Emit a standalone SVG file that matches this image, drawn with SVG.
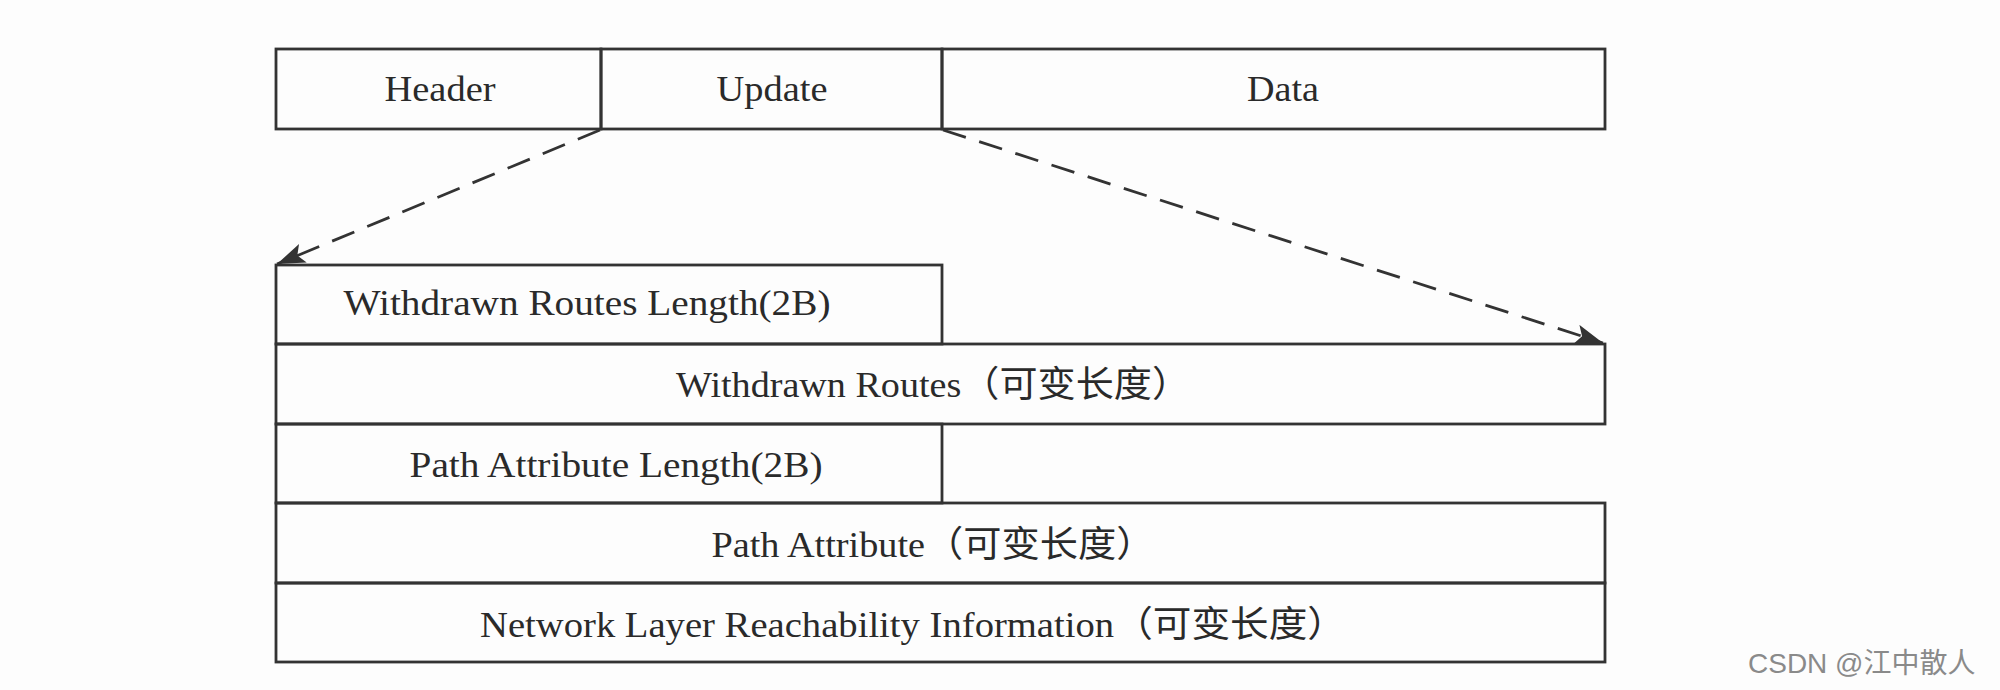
<svg xmlns="http://www.w3.org/2000/svg" width="2000" height="690" viewBox="0 0 2000 690">
<style>
.box{fill:none;stroke:#333;stroke-width:2.8}
.t{font-family:"Liberation Serif","Noto Sans CJK SC",serif;font-size:36px;fill:#2a2a2a;text-anchor:middle}
.con{fill:none;stroke:#333;stroke-width:2.8;stroke-dasharray:24 14}
.wm{font-family:"Liberation Sans","Noto Sans CJK SC",sans-serif;font-size:28px;fill:#8a8a8a}
</style>
<defs>
<marker id="arr" markerUnits="userSpaceOnUse" markerWidth="34" markerHeight="24" refX="28" refY="10" orient="auto">
<path d="M0,0 L28,10 L0,20 L6,10 Z" fill="#333"/>
</marker>
</defs>
<rect width="2000" height="690" fill="#fdfdfd"/>
<g id="header"><rect class="box" x="276" y="49" width="325" height="80"/><text class="t" x="440" y="101" textLength="111" lengthAdjust="spacingAndGlyphs">Header</text></g>
<g id="update"><rect class="box" x="601" y="49" width="341" height="80"/><text class="t" x="772" y="101" textLength="111" lengthAdjust="spacingAndGlyphs">Update</text></g>
<g id="data"><rect class="box" x="942" y="49" width="663" height="80"/><text class="t" x="1283" y="101" textLength="72" lengthAdjust="spacingAndGlyphs">Data</text></g>
<g id="wrl"><rect class="box" x="276" y="265" width="666" height="79"/><text class="t" x="587" y="315" textLength="487" lengthAdjust="spacingAndGlyphs">Withdrawn Routes Length(2B)</text></g>
<g id="wr"><rect class="box" x="276" y="344" width="1329" height="80"/><text class="t" x="933" y="397" textLength="514" lengthAdjust="spacingAndGlyphs">Withdrawn Routes（可变长度）</text></g>
<g id="pal"><rect class="box" x="276" y="424" width="666" height="79"/><text class="t" x="616" y="477" textLength="413" lengthAdjust="spacingAndGlyphs">Path Attribute Length(2B)</text></g>
<g id="pa"><rect class="box" x="276" y="503" width="1329" height="80"/><text class="t" x="933" y="557" textLength="443" lengthAdjust="spacingAndGlyphs">Path Attribute（可变长度）</text></g>
<g id="nlri"><rect class="box" x="276" y="583" width="1329" height="79"/><text class="t" x="913" y="637" textLength="866" lengthAdjust="spacingAndGlyphs">Network Layer Reachability Information（可变长度）</text></g>
<g id="connectors">
<line class="con" x1="600" y1="130" x2="277" y2="264" marker-end="url(#arr)"/>
<line class="con" x1="943" y1="130" x2="1603" y2="343" marker-end="url(#arr)"/>
</g>
<text class="wm" x="1748" y="673">CSDN @江中散人</text>
</svg>
